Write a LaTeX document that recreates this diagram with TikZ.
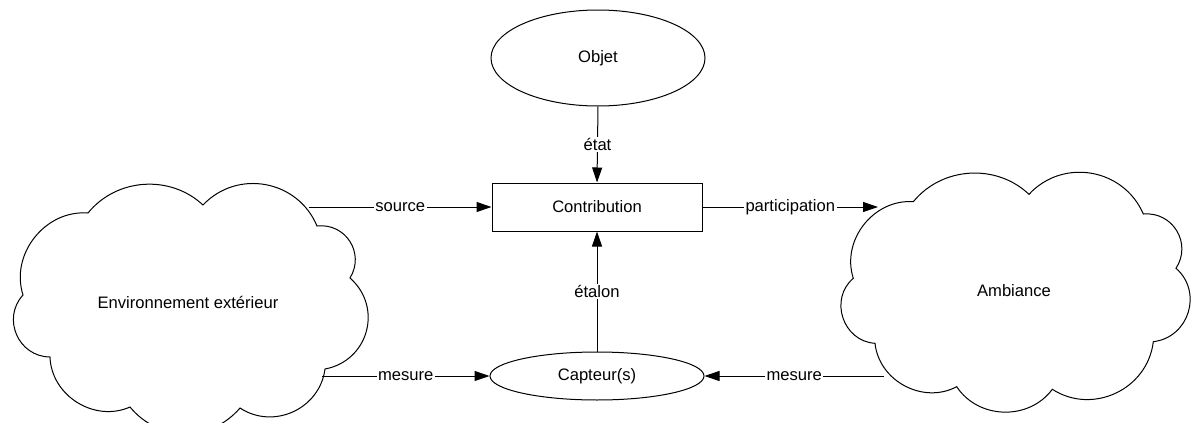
\documentclass[tikz,border=0pt]{standalone}
\usepackage{fontspec}
\setmainfont{Liberation Sans}
\usetikzlibrary{shapes.geometric,arrows.meta}
\tikzset{
  every node/.append style={font=\fontsize{16.6pt}{19pt}\selectfont},
  line/.style={line width=1pt, draw=black},
  arr/.style={line, -{Triangle[length=15pt,width=10pt]}},
  lbl/.style={fill=white, inner sep=1.5pt},
  ell/.style={ellipse, line, inner sep=0pt},
  box/.style={rectangle, line, inner sep=0pt},
}
\begin{document}
\begin{tikzpicture}[x=1pt,y=-1pt]
\useasboundingbox[fill=white] (0,0) rectangle (1192,423);

% nodes
\node[ell, minimum width=214pt, minimum height=96pt] (objet) at (598,58) {Objet};
\node[box, minimum width=210pt, minimum height=48pt] (contrib) at (597,207) {Contribution};
\node[ell, minimum width=214pt, minimum height=48pt] (capteur) at (597,376) {Capteur(s)};
\node (env) at (188,302) {Environnement extérieur};
\node (amb) at (1014,291) {Ambiance};

% left cloud
\draw[line, shift={(187,300)}]
  (-99,-87) to[bend left=47] (16,-95)
  to[bend left=57, looseness=1.1] (130,-74)
  to[bend left=64, looseness=1.2] (163,-22)
  to[bend left=64, looseness=1.2] (138,69)
  to[bend left=58, looseness=1.1] (53,108)
  to[bend left=50, looseness=1.05] (-57,107)
  to[bend left=56, looseness=1.05] (-137,57)
  to[bend left=66, looseness=1.2] (-164,-5)
  to[bend left=56, looseness=1.05] (-99,-87) -- cycle;

% right cloud
\draw[line, shift={(1015,293)}]
  (-101.7,-91.3) to[bend left=47] (14,-98.7)
  to[bend left=57, looseness=1.1] (128.3,-79)
  to[bend left=64, looseness=1.2] (161,-24.7)
  to[bend left=66, looseness=1.2] (138.3,48.7)
  to[bend left=58, looseness=1.1] (37.3,96.3)
  to[bend left=55, looseness=1.05] (-58.3,93.7)
  to[bend left=56, looseness=1.05] (-140,50.3)
  to[bend left=68, looseness=1.2] (-161.7,-14.7)
  to[bend left=56, looseness=1.05] (-101.7,-91.3) -- cycle;

% connector ends on the clouds
\coordinate (envsrc) at (309,207);
\coordinate (envmes) at (322,376);
\coordinate (ambpart) at (878,207);
\coordinate (ambmes) at (884,376);

% connectors
\draw[arr] (objet.south) -- node[lbl, midway] {état} (contrib.north);
\draw[arr] (capteur.north) -- node[lbl, midway] {étalon} (contrib.south);
\draw[arr] (envsrc) -- node[lbl, midway] {source} (contrib.west);
\draw[arr] (contrib.east) -- node[lbl, midway] {participation} (ambpart);
\draw[arr] (envmes) -- node[lbl, midway] {mesure} (capteur.west);
\draw[arr] (ambmes) -- node[lbl, midway] {mesure} (capteur.east);
\end{tikzpicture}
\end{document}
